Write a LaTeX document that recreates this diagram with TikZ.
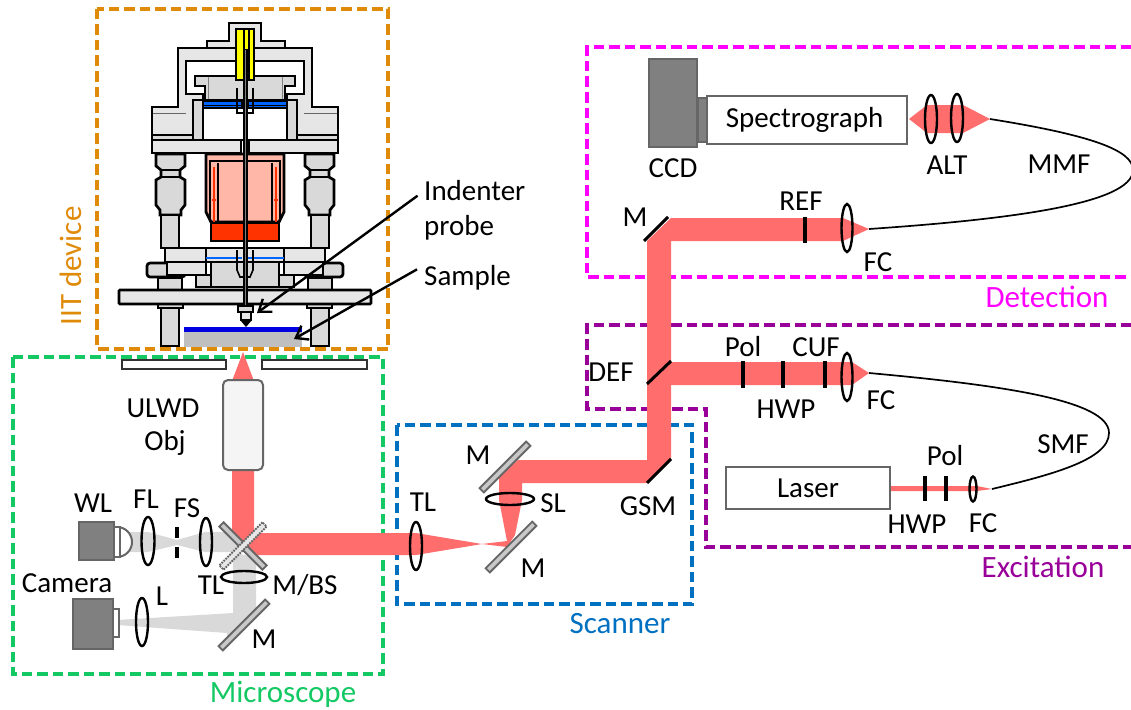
\documentclass[tikz,border=0pt]{standalone}
\usepackage{fontspec}
\setmainfont{Carlito}
\usetikzlibrary{arrows.meta}
\definecolor{beamred}{RGB}{255, 109, 109}
\definecolor{beamgray}{RGB}{217, 217, 217}
\definecolor{cornergray}{RGB}{102, 102, 102}
\definecolor{bodygray}{RGB}{128, 128, 128}
\definecolor{lightgray}{RGB}{230, 230, 230}
\definecolor{midgray}{RGB}{217, 217, 217}
\definecolor{mirrorgray}{RGB}{200, 200, 200}
\definecolor{pinkred}{RGB}{255, 184, 168}
\definecolor{hotred}{RGB}{255, 51, 0}
\definecolor{plateblue}{RGB}{0, 102, 255}
\definecolor{sampleblue}{RGB}{0, 0, 224}
\definecolor{sampleg}{RGB}{191, 191, 191}
\definecolor{piezoyellow}{RGB}{255, 255, 0}
\definecolor{iitorange}{RGB}{224, 138, 10}
\definecolor{micgreen}{RGB}{20, 200, 100}
\definecolor{scanblue}{RGB}{0, 112, 192}
\definecolor{detmagenta}{RGB}{255, 0, 255}
\definecolor{excpurple}{RGB}{153, 0, 153}

\begin{document}
\begin{tikzpicture}[x = 1pt, y = -1pt,
  lbl/.style = {font = \fontsize{29}{33}\selectfont, inner sep = 0pt},
  grouplbl/.style = {font = \fontsize{31}{35}\selectfont, inner sep = 0pt},
  group/.style = {line width = 3.6pt, dash pattern = on 10.5pt off 5pt},
  lens/.style = {line width = 2.4pt, draw = black},
  fltr/.style = {line width = 4pt, draw = black},
  blackm/.style = {line width = 3pt, draw = black},
  mirrorbox/.style = {draw = cornergray, fill = mirrorgray, line width = 1.8pt, minimum width = 61pt, minimum height = 6pt, inner sep = 0pt},
  bsbox/.style = {mirrorbox, densely dotted, fill = lightgray},
  unitbox/.style = {draw = cornergray, line width = 2pt, fill = white, inner sep = 0pt},
  body/.style = {draw = cornergray, line width = 2pt, fill = bodygray},
  part/.style = {draw = black, line width = 2.7pt, line join = miter}]
\useasboundingbox (0,0) rectangle (1131,709);

\draw[group, iitorange] (97,9) rectangle (388,349);
\draw[group, micgreen] (13,357) rectangle (383,674);
\draw[group, scanblue] (397,425) rectangle (692,604);
\draw[group, detmagenta] (1131,47) -- (587,47) -- (587,277) -- (1131,277);
\draw[group, excpurple] (1131,325) -- (587,325) -- (587,409) -- (706,409) -- (706,547) -- (1131,547);

\begin{scope}[shift = {(245,0)}]
\draw[part, fill = lightgray] (-38,48) -- (-38,41) -- (-16,41) -- (-16,23) -- (16,23) -- (16,41) -- (40,41) -- (40,48) -- cycle;
\foreach \s in {-1,1}
{
\begin{scope}[xscale = \s]
\draw[part, fill = midgray] (42,100) rectangle (52,140);
\draw[part, fill = midgray] (52,135) rectangle (93,140);
\draw[part, fill = lightgray] (0,48) -- (67,48) -- (67,107) -- (93,107) -- (93,135) -- (52,135) -- (52,100) -- (42,100) -- (42,94) -- (59,94) -- (59,61) -- (0,61) -- cycle;
\draw[cornergray, line width = 1pt] (59,113) -- (92,113);
\draw[part, fill = midgray] (0,76) -- (50,76) -- (50,86) -- (40,86) -- (40,100) -- (0,100) -- cycle;
\draw[gray, line width = 1pt] (37,77) -- (37,99);
\draw[part, fill = white] (0,108) rectangle (42,140);
\draw[part, fill = plateblue] (3,101) rectangle (42,108);
\draw[black, line width = 1pt] (3,105) -- (42,105);
\draw[part, fill = lightgray] (4,140) rectangle (93,153);
\draw[part, fill = midgray] (60,154) -- (89,154) -- (89,166) -- (84,170) -- (84,177) -- (89,180) -- (89,205) -- (85,210) -- (85,215) -- (64,215) -- (64,210) -- (60,205) -- (60,180) -- (65,177) -- (65,170) -- (60,166) -- cycle;
\draw[part, fill = midgray] (66,215) rectangle (84,248);
\draw[part] (64,170) -- (85,170) (64,177) -- (85,177);
\draw[part, fill = pinkred] (0,154) -- (39,154) -- (39,212) -- (34,222) -- (0,222) -- cycle;
\draw[black, line width = 2pt] (35,222) -- (35,161) -- (0,161);
\draw[hotred, line width = 1.5pt] (31,167) -- (31,222);
\draw[black, line width = 1.5pt] (27,163) -- (27,222);
\draw[hotred, line width = 1.5pt] (29,200) -- (33,200);
\draw[part, fill = hotred] (0,223) rectangle (34,241);
\draw[part, fill = midgray] (63,278) rectangle (87,290);
\draw[part, fill = midgray] (0,275) rectangle (49,287);
\draw[part, fill = midgray] (0,262) rectangle (34,287);
\draw[part, fill = midgray, rounded corners = 3pt] (60,263) rectangle (98,277);
\draw[part, fill = lightgray] (39,248) rectangle (80,262);
\draw[part, fill = lightgray] (39,262) rectangle (78,275);
\draw[part, fill = lightgray] (0,248) rectangle (39,262);
\draw[plateblue, line width = 1.2pt] (3,258) -- (39,258);
\draw[black, line width = 1.6pt] (8,250) -- (8,270) -- (5,277) -- (0,277);
\draw[black, line width = 1.6pt] (8,88) -- (8,113) -- (0,113);
\draw[part, fill = midgray] (62,304) rectangle (87,308);
\draw[part, fill = midgray] (66,308) rectangle (84,346);
\end{scope}
}
\draw[part, fill = lightgray, rounded corners = 1pt] (-126,290) rectangle (126,304);
\fill[black] (-10,28) rectangle (10,81);
\fill[piezoyellow] (-8,30) rectangle (-2,79);
\fill[piezoyellow] (0,30) rectangle (2.5,49);
\fill[piezoyellow] (5,30) rectangle (8,79);
\draw[black, line width = 5pt] (0.5,50) -- (0.5,306);
\draw[gray, line width = 1.5pt] (0.5,50) -- (0.5,306);
\draw[part, fill = midgray, line width = 2pt] (-7,306) rectangle (8,312);
\draw[part, fill = lightgray, line width = 2pt] (-4,312) rectangle (6,320);
\fill[black] (-5,320) -- (7,320) -- (1,327) -- cycle;
\end{scope}

\fill[sampleblue] (184,327) rectangle (302,332);
\fill[sampleg] (184,332) rectangle (302,347);
\draw[unitbox, draw = black!80] (122,360) rectangle (226,369);
\draw[unitbox, draw = black!80] (262,360) rectangle (367,369);

\fill[beamgray] (128,532) -- (148,532) -- (177,540) -- (205,532) -- (240,532) -- (251,543) -- (240,552) -- (205,552) -- (177,545) -- (148,552) -- (128,552) -- cycle;
\fill[beamgray] (233,552) -- (256,558) -- (256,611) -- (227,640) -- (227,633) -- (117,625) -- (117,620) -- (233,613) -- cycle;

\fill[beamred] (243,352) -- (254,381) -- (232,381) -- cycle;
\fill[beamred] (232,469) -- (232,536) -- (251,555) -- (416,555) -- (482,544) -- (507,547) -- (515,535) -- (522,500) -- (522,483) -- (647,483) -- (671,459) -- (671,241) -- (843,241) -- (869,229) -- (843,218) -- (671,218) -- (647,241) -- (647,460) -- (518,460) -- (499,477) -- (499,500) -- (507,541) -- (482,544) -- (416,533) -- (254,533) -- (254,469) -- cycle;
\fill[beamred] (671,362) -- (852,362) -- (869,373) -- (852,385) -- (671,385) -- cycle;
\fill[beamred] (909,119) -- (927,105) -- (963,105) -- (990,119) -- (963,133) -- (927,133) -- cycle;
\fill[beamred] (890,486) -- (977,486) -- (992,489) -- (977,491) -- (890,491) -- cycle;

\node[unitbox, minimum width = 200pt, minimum height = 48pt] (spec) at (807,120) {};
\node[lbl] (spectext) at (804.5,120) {Spectrograph};
\node[body, minimum width = 9pt, minimum height = 44pt, inner sep = 0pt] (ccdneck) at (702.5,120) {};
\node[body, minimum width = 48pt, minimum height = 88pt, inner sep = 0pt] (ccd) at (673,103) {};
\node[unitbox, minimum width = 164pt, minimum height = 42pt, lbl] (laser) at (808,488) {Laser};
\draw[unitbox] (117,527) arc (-90:90:15);
\node[unitbox, minimum width = 6pt, minimum height = 30pt] (wlneck) at (117,542) {};
\node[body, minimum width = 35pt, minimum height = 38pt, inner sep = 0pt] (wl) at (96.5,541) {};
\node[unitbox, minimum width = 6pt, minimum height = 28pt] (camneck) at (116,623) {};
\node[body, minimum width = 40pt, minimum height = 50pt, inner sep = 0pt] (cam) at (93,624) {};
\node[unitbox, draw = cornergray, fill = lightgray!40, rounded corners = 5pt, minimum width = 40pt, minimum height = 90pt] (objective) at (243,425) {};

\node[mirrorbox, rotate = -45] (mmain) at (243,546) {};
\node[bsbox, rotate = 45] (bsmain) at (243,546) {};
\node[mirrorbox, rotate = 45, minimum width = 66pt] (mcam) at (244,625) {};
\node[mirrorbox, rotate = 45, minimum width = 66pt] (mlow) at (511,547) {};
\node[mirrorbox, rotate = 45, minimum width = 66pt] (mup) at (505,467) {};

\foreach \x/\y/\a/\b in {148/541/6.5/24, 206/542/6/24, 142/622/6/24, 244/577/23/6, 416/546/6/24, 510/499/24/6, 847/228/5.5/24, 931/119/6/24, 957/118/6/24, 847/377/5.5/24, 973/489/3.5/12.5}
{
\draw[lens] (\x,\y) ellipse [x radius = \a, y radius = \b];
}

\foreach \x/\ya/\yb in {805/217/243, 743/361/388, 783/361/388, 825/361/388, 925/476/501, 946/476/501, 177/527/538, 177/547/558}
{
\draw[fltr] (\x,\ya) -- (\x,\yb);
}
\draw[blackm] (644,241) -- (668,217);
\draw[blackm] (647,384) -- (671,361);
\draw[blackm] (647,483) -- (671,459);

\draw[black, line width = 1.7pt] (990,119) .. controls (1090,135) and (1133,150) .. (1133,170) .. controls (1133,205) and (1000,220) .. (869,229);
\draw[black, line width = 1.7pt] (869,373) .. controls (1000,385) and (1109,400) .. (1109,433) .. controls (1109,460) and (1050,475) .. (992,489);

\node[grouplbl, rotate = 90, iitorange] (iit) at (71,266) {IIT device};
\node[lbl, anchor = west] (indenter) at (424,191) {Indenter};
\node[lbl, anchor = west] (probe) at (424,228) {probe};
\node[lbl, anchor = west] (sample) at (424,278) {Sample};
\node[lbl] (ulwd) at (163,408) {ULWD};
\node[lbl] (obj) at (165,443) {Obj};
\node[lbl] (wltext) at (93,503) {WL};
\node[lbl] (fltext) at (146,499) {FL};
\node[lbl] (fstext) at (187,508) {FS};
\node[lbl] (tlmic) at (211,585) {TL};
\node[lbl] (mbs) at (305,585) {M/BS};
\node[lbl] (camera) at (67,583) {Camera};
\node[lbl] (ltext) at (162,596) {L};
\node[lbl] (mmic) at (264,639) {M};
\node[grouplbl, micgreen] (microscope) at (283,694) {Microscope};
\node[lbl] (tlscan) at (423,502) {TL};
\node[lbl] (mscanup) at (478,455) {M};
\node[lbl] (sltext) at (553,503) {SL};
\node[lbl] (mscanlow) at (533,568) {M};
\node[lbl] (gsm) at (648,506) {GSM};
\node[grouplbl, scanblue] (scanner) at (620,624) {Scanner};
\node[lbl] (ccdtext) at (673,168) {CCD};
\node[lbl] (alt) at (947,165) {ALT};
\node[lbl] (mmf) at (1059,164) {MMF};
\node[lbl] (mdet) at (635,217) {M};
\node[lbl] (ref) at (801,201) {REF};
\node[lbl] (fcdet) at (878,262) {FC};
\node[grouplbl, detmagenta] (detection) at (1047,297) {Detection};
\node[lbl] (def) at (611,372) {DEF};
\node[lbl] (polexc) at (743,347) {Pol};
\node[lbl] (cuf) at (816,347) {CUF};
\node[lbl] (hwpexc) at (786,409) {HWP};
\node[lbl] (fcexc) at (881,400) {FC};
\node[lbl] (smf) at (1063,444) {SMF};
\node[lbl] (pollas) at (945,456) {Pol};
\node[lbl] (hwplas) at (917,524) {HWP};
\node[lbl] (fclas) at (983,523) {FC};
\node[grouplbl, excpurple] (excitation) at (1043,567) {Excitation};

\coordinate (probetip) at (257,313);
\coordinate (sampletip) at (294,339);
\draw[black, line width = 2.4pt, -{Straight Barb[length = 11pt, width = 16pt]}, shorten <= 8pt] (indenter.west) -- (probetip);
\draw[black, line width = 2.4pt, -{Straight Barb[length = 11pt, width = 16pt]}, shorten <= 8pt] (sample.north west) -- (sampletip);
\end{tikzpicture}
\end{document}
